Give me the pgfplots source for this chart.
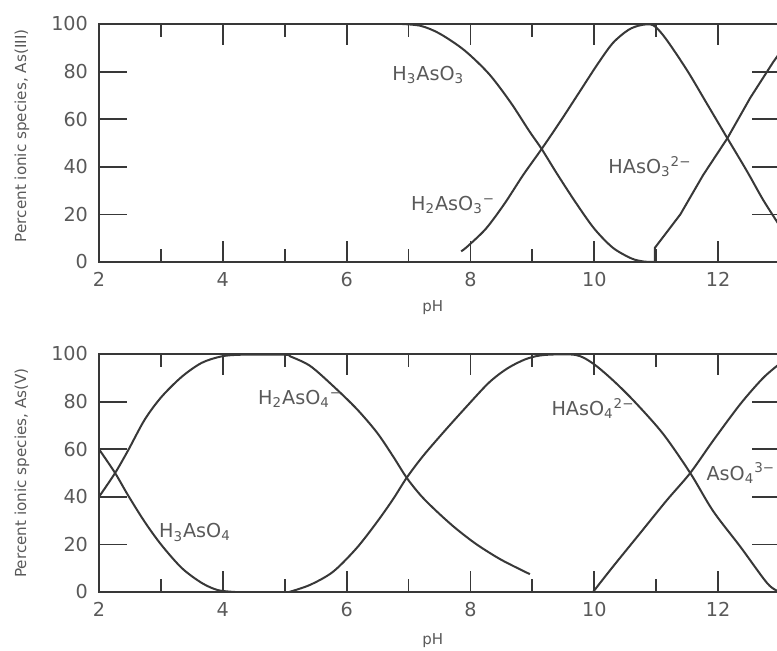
\documentclass[border=0pt]{standalone}
\usepackage{pgfplots}
\pgfplotsset{compat=1.18}
\usepackage{fontspec}
\setmainfont{DejaVu Sans}
\definecolor{ink}{gray}{0.22}
\definecolor{txt}{gray}{0.35}
\pgfplotsset{
 panel/.style={
  scale only axis, width=340.5pt, height=119pt,
  xmin=2, xmax=13, ymin=0, ymax=100,
  xtick={2,4,...,12}, minor xtick={3,5,...,13}, ytick={0,20,...,100},
  xtick pos=both, ytick pos=left,
  tick align=inside, major tick length=10.5pt, minor tick length=6.5pt,
  ytick style={/pgfplots/major tick length=14pt},
  axis line style={ink, line width=1pt},
  tick style={ink, line width=0.9pt},
  /pgf/number format/assume math mode=true,
  tick label style={font=\fontsize{9.6}{10}\selectfont, text=txt},
  xticklabel style={yshift=-1.5pt},
  yticklabel style={xshift=-2pt},
  xlabel={pH},
  ylabel style={font=\fontsize{7.6}{9}\selectfont, text=txt, anchor=center},
  cycle list={{ink, line width=1pt, no markers}},
 },
}
\tikzset{lab/.style={font=\fontsize{9.6}{11}\selectfont, text=txt},
         rt/.style={ink, line width=0.9pt}}
\begin{document}
\begin{tikzpicture}
\clip (0,0) rectangle (388.5pt,325pt);
% ---------- As(III) ----------
\begin{axis}[panel, at={(49.5pt,194pt)}, anchor=south west,
  ylabel={Percent ionic species, As(III)},
  ylabel style={at={(axis description cs:-0.113,0.53)}},
  xlabel style={font=\fontsize{7.5}{9}\selectfont, text=txt, at={(axis description cs:0.49,0)}, anchor=center, yshift=-23pt}]
\addplot[ink, line width=1pt, smooth, tension=0.5] coordinates {
 (6.9,100) (7.2,99.2) (7.5,96) (7.9,89) (8.3,79) (8.65,67) (8.95,55) (9.15,47.5)
 (9.4,37) (9.7,25) (10.0,14) (10.3,6) (10.6,1.5) (10.8,0.2) (10.98,0)};
\addplot[ink, line width=1pt, smooth, tension=0.5] coordinates {
 (7.85,4.5) (7.95,6.5) (8.25,14) (8.55,24.5) (8.85,36.5) (9.15,47.5) (9.45,59) (9.75,71)
 (10.05,83) (10.3,92) (10.55,97.5) (10.75,99.5) (10.95,99.5) (11.15,94) (11.5,80.5)
 (11.82,66.5) (12.15,52) (12.47,38) (12.73,26) (13,15)};
\addplot[ink, line width=1pt, sharp plot] coordinates {
 (10.98,0) (10.98,6) (11.39,20) (11.76,36.6) (12.15,52) (12.52,69) (12.89,84) (13,88)};
\draw[rt] (axis cs:13,20) -- (axis cs:12.55,20);
\draw[rt] (axis cs:13,40) -- (axis cs:12.55,40);
\draw[rt] (axis cs:13,60) -- (axis cs:12.55,60);
\draw[rt] (axis cs:13,80) -- (axis cs:12.55,80);
\node[lab] at (axis cs:7.32,78.6) {H\textsubscript{3}AsO\textsubscript{3}};
\node[lab] at (axis cs:7.72,24) {H\textsubscript{2}AsO\textsubscript{3}\textsuperscript{−}};
\node[lab] at (axis cs:10.9,40) {HAsO\textsubscript{3}\textsuperscript{2−}};
\end{axis}
% ---------- As(V) ----------
\begin{axis}[panel, at={(49.5pt,29pt)}, anchor=south west,
  ylabel={Percent ionic species, As(V)},
  ylabel style={at={(axis description cs:-0.113,0.50)}},
  xlabel style={font=\fontsize{7.5}{9}\selectfont, text=txt, at={(axis description cs:0.49,0)}, anchor=center, yshift=-24.5pt}]
\addplot[ink, line width=1pt, smooth, tension=0.5] coordinates {
 (2,60) (2.26,50) (2.47,40.6) (2.74,29.4) (3.01,19.7) (3.34,10) (3.66,3.8) (3.92,0.8) (4.2,0)};
\addplot[ink, line width=1pt, smooth, tension=0.5] coordinates {
 (2,40) (2.26,50) (2.47,59.5) (2.74,72.5) (3.01,82) (3.34,90.5) (3.66,96.3) (3.98,99)
 (4.3,99.7) (5.0,99.7) (5.09,99) (5.41,95) (5.78,86.6) (6.16,77) (6.49,67) (6.75,57)
 (6.97,48) (7.2,40.5) (7.45,34) (7.75,27) (8.1,20) (8.5,13.5) (8.96,7.5)};
\addplot[ink, line width=1pt, smooth, tension=0.5] coordinates {
 (5.07,0) (5.41,3) (5.78,8.5) (6.16,18.4) (6.49,29.4) (6.75,39) (6.97,48) (7.23,57)
 (7.56,67) (7.94,78) (8.3,88) (8.6,94) (8.91,98) (9.2,99.6) (9.7,99.6) (9.98,96)
 (10.3,89) (10.65,80) (11.11,66.5) (11.55,50) (11.92,34) (12.36,19) (12.8,3.5) (13,0)};
\addplot[ink, line width=1pt, smooth, tension=0.5] coordinates {
 (9.98,0) (10.3,10.6) (10.74,24.7) (11.17,38.5) (11.55,50) (11.92,63.6) (12.36,79)
 (12.73,90) (13,96)};
\draw[rt] (axis cs:13,20) -- (axis cs:12.55,20);
\draw[rt] (axis cs:13,40) -- (axis cs:12.55,40);
\draw[rt] (axis cs:13,60) -- (axis cs:12.55,60);
\draw[rt] (axis cs:13,80) -- (axis cs:12.55,80);
\node[lab] at (axis cs:5.25,81) {H\textsubscript{2}AsO\textsubscript{4}\textsuperscript{−}};
\node[lab] at (axis cs:3.55,25) {H\textsubscript{3}AsO\textsubscript{4}};
\node[lab] at (axis cs:9.98,77) {HAsO\textsubscript{4}\textsuperscript{2−}};
\node[lab, anchor=west] at (axis cs:11.7,50) {AsO\textsubscript{4}\textsuperscript{3−}};
\end{axis}
\end{tikzpicture}
\end{document}
